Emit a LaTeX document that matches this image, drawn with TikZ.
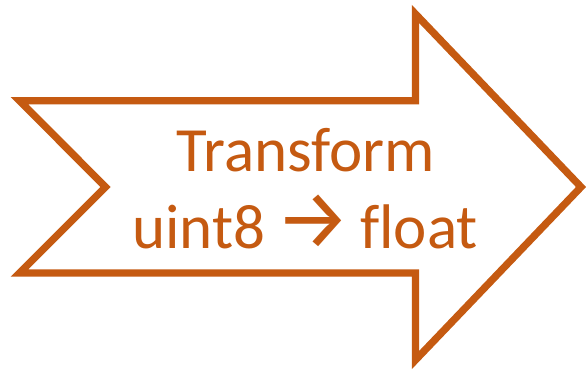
\documentclass[tikz,border=0pt]{standalone}
\usepackage{fontspec}
\setmainfont{Carlito}[Ligatures=NoCommon]
\newfontfamily\arrowfont{Fira Sans}
\definecolor{rust}{HTML}{C55A11}
\begin{document}
\begin{tikzpicture}[x=1pt,y=-1pt,
  outline/.style={draw=rust,line width=7.3pt,line join=miter,miter limit=10,fill=white},
  label/.style={text=rust,font=\fontsize{63}{77}\selectfont,anchor=base,inner sep=0pt}]
\useasboundingbox[fill=white] (0,0) rectangle (586,370);
\draw[outline] (19.5,100.7) -- (415.5,100.7) -- (415.5,14) -- (581,187)
  -- (415.5,360) -- (415.5,273) -- (19.5,273) -- (105.5,187) -- cycle;
\node[label] (t1) at (306,171.7) {Transform};
\node[label] (t2) at (305,248.3) {uint8 \hspace{-4pt}{\arrowfont\fontsize{84}{77}\selectfont →}\hspace{-5pt} float};
\end{tikzpicture}
\end{document}
